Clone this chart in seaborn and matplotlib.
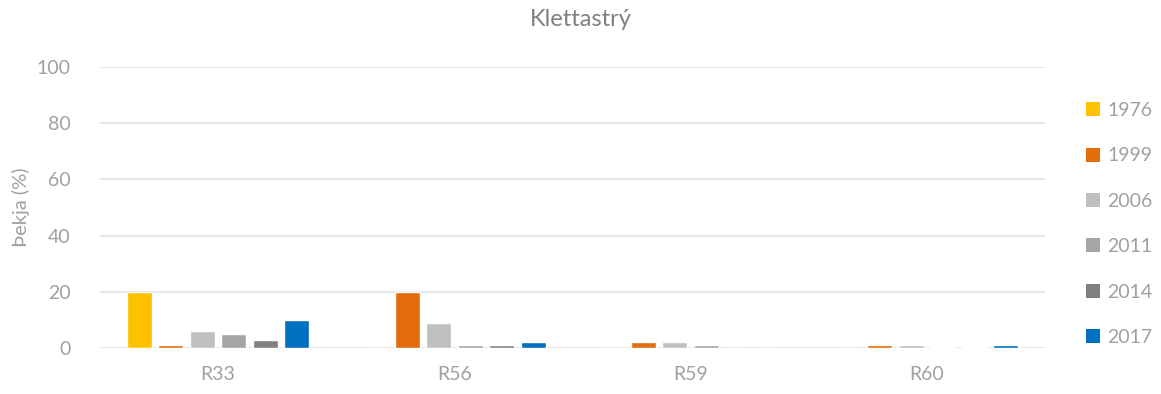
import matplotlib
matplotlib.use("Agg")
import matplotlib.pyplot as plt
import seaborn as sns
import pandas as pd
from matplotlib.patches import Patch

# Cover (%) per plot and survey year
plots = ["R33", "R56", "R59", "R60"]
years = ["1976", "1999", "2006", "2011", "2014", "2017"]
cover_1976 = [20, 0, 0, 0]
cover_1999 = [1, 20, 2, 1]
cover_2006 = [6, 9, 2, 1]
cover_2011 = [5, 1, 1, 0.5]
cover_2014 = [3, 1, 0, 0.5]
cover_2017 = [10, 2, 0, 1]
year_colors = ["#FFC000", "#E46C0A", "#BFBFBF", "#A5A5A5", "#7F7F7F", "#0070C0"]

series = [cover_1976, cover_1999, cover_2006, cover_2011, cover_2014, cover_2017]
rows = []
for yr, vals in zip(years, series):
    for p, v in zip(plots, vals):
        rows.append({"Reitur": p, "Ár": yr, "Þekja": v})
df = pd.DataFrame(rows)

sns.set_theme(style="white")
plt.rcParams["font.family"] = ["Lato", "DejaVu Sans"]

text_gray = "#A0A0A0"
grid_gray = "#E3E3E3"

fig = plt.figure(figsize=(11.61, 3.94), dpi=100)
ax = fig.add_axes([100 / 1161, 1 - 348 / 394, 945 / 1161, 281 / 394])

sns.barplot(data=df, x="Reitur", y="Þekja", hue="Ár", hue_order=years,
            order=plots, palette=year_colors, width=0.8, gap=0.2,
            saturation=1, ax=ax, legend=False)

ax.set_ylim(0, 100)
ax.set_yticks(range(0, 101, 20))
ax.set_xlim(-0.5, 3.5)
ax.yaxis.grid(True, color=grid_gray, linewidth=1.2)
ax.set_axisbelow(True)
for s in ax.spines.values():
    s.set_visible(False)
ax.tick_params(axis="both", length=0, labelsize=14, colors=text_gray)
ax.tick_params(axis="y", pad=21)
ax.tick_params(axis="x", pad=13)
ax.set_xlabel("")
ax.set_ylabel("Þekja (%)", fontsize=14.5, color=text_gray, labelpad=5)

fig.text(0.5, 1 - 20 / 394, "Klettastrý", ha="center", va="center",
         fontsize=17, color="#808080")

handles = [Patch(facecolor=c, edgecolor="none") for c in year_colors]
leg = fig.legend(handles, years, loc="center left",
                 bbox_to_anchor=(1086 / 1161, 1 - 224 / 394),
                 frameon=False, fontsize=14, handlelength=0.72,
                 handleheight=0.72, handletextpad=0.36, labelspacing=1.46,
                 borderpad=0, borderaxespad=0)
for t in leg.get_texts():
    t.set_color(text_gray)

fig.savefig("out.png", dpi=100)
